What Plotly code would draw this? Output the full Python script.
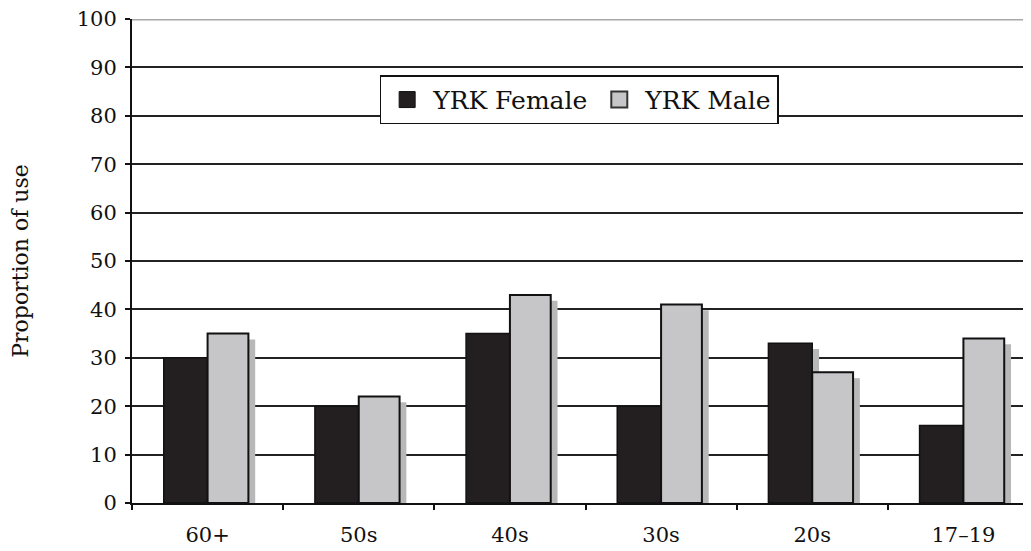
import plotly.graph_objects as go

categories = ["60+", "50s", "40s", "30s", "20s", "17\u201319"]
female = [30, 20, 35, 20, 33, 16]
male = [35, 22, 43, 41, 27, 34]
series_names = ["YRK Female", "YRK Male"]

SERIF = "DejaVu Serif"
FEMALE_COL = "#231f20"
MALE_COL = "#c6c6c8"
SHADOW_COL = "#b8b8b8"
shadow_drop = 1.2

fig = go.Figure()

# drop shadows (drawn first, behind bars)
fig.add_trace(go.Bar(x=categories, y=[v - shadow_drop for v in female], offset=0.0, width=0.045,
                     marker=dict(color=SHADOW_COL, line=dict(width=0)), showlegend=False, hoverinfo="skip"))
fig.add_trace(go.Bar(x=categories, y=[v - shadow_drop for v in male], offset=0.27, width=0.045,
                     marker=dict(color=SHADOW_COL, line=dict(width=0)), showlegend=False, hoverinfo="skip"))

fig.add_trace(go.Bar(x=categories, y=female, name=series_names[0], offset=-0.29, width=0.29,
                     marker=dict(color=FEMALE_COL, line=dict(color="#111", width=1.5)), showlegend=False))
fig.add_trace(go.Bar(x=categories, y=male, name=series_names[1], offset=0.0, width=0.27,
                     marker=dict(color=MALE_COL, line=dict(color="#111", width=2)), showlegend=False))

# legend proxies (larger square symbols)
fig.add_trace(go.Scatter(x=[None], y=[None], mode="markers", name=series_names[0],
                         marker=dict(symbol="square", size=16, color=FEMALE_COL, line=dict(color="#111", width=1))))
fig.add_trace(go.Scatter(x=[None], y=[None], mode="markers", name=series_names[1],
                         marker=dict(symbol="square", size=16, color=MALE_COL, line=dict(color="#333", width=2))))

fig.update_layout(
    width=1031, height=551,
    margin=dict(l=124, r=0, t=11, b=56),
    paper_bgcolor="white", plot_bgcolor="white",
    barmode="overlay",
    font=dict(family=SERIF, color="#111", size=18),
    showlegend=True,
    legend=dict(orientation="h", x=0.493, y=0.833, xanchor="center", yanchor="middle",
                bordercolor="#111", borderwidth=1.5, bgcolor="white",
                font=dict(family=SERIF, size=25, color="#111"), traceorder="normal",
                itemwidth=42),
)
fig.update_xaxes(
    type="category", range=[-0.5, 5.5], automargin=False,
    showline=True, linecolor="#111", linewidth=2,
    ticks="outside", tickson="boundaries", ticklen=5, tickcolor="#111", tickwidth=2,
    showgrid=False, tickfont=dict(family=SERIF, size=21, color="#111"),
    ticklabeloverflow="allow", ticklabelstandoff=12,
)
fig.update_yaxes(
    range=[0, 100], dtick=10, tick0=0, automargin=False,
    showline=True, linecolor="#111", linewidth=2,
    ticks="outside", ticklen=5, tickcolor="#111", tickwidth=2,
    showgrid=True, gridcolor="#222", gridwidth=2.2,
    zeroline=False, ticklabeloverflow="allow", ticklabelstandoff=4,
    tickfont=dict(family=SERIF, size=21, color="#111"),
    title=dict(text="Proportion of use", font=dict(family=SERIF, size=22, color="#111"), standoff=43),
)
fig.add_shape(type="line", xref="paper", yref="y", x0=0, x1=1, y0=100, y1=100,
              line=dict(color="#a8a8a8", width=3), layer="above")

fig.write_html("out.html")
